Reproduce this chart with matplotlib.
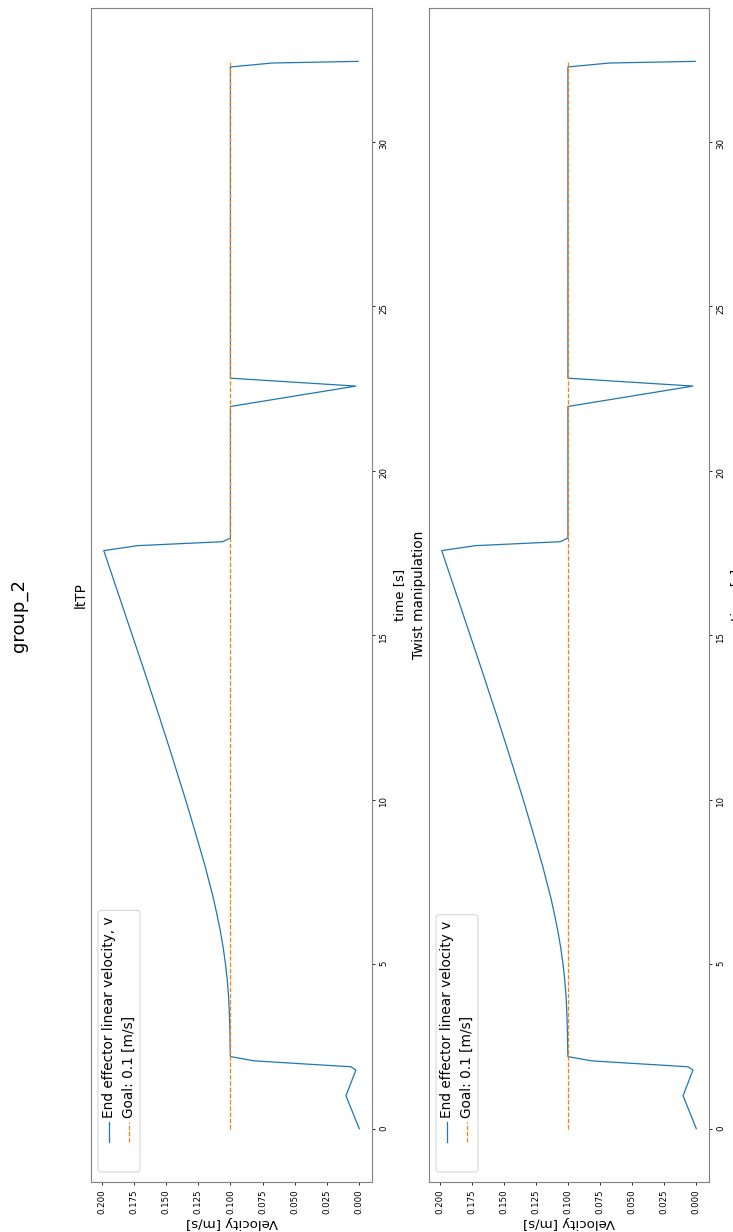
import numpy as np
import matplotlib
matplotlib.use("Agg")
import matplotlib.pyplot as plt
from matplotlib.patches import FancyBboxPatch
from matplotlib.lines import Line2D
from matplotlib.ticker import FormatStrFormatter
from matplotlib.transforms import Affine2D

# end effector speed over time (same run shown in both panels)
time_s = [0.0, 1.0, 1.78, 1.88, 2.06, 2.19, 2.5, 3.0, 3.5, 4.0, 4.5, 5.0,
          5.5, 6.0, 6.5, 7.0, 7.5, 8.0, 8.5, 9.0, 9.5, 10.0, 10.5, 11.0,
          11.5, 12.0, 12.5, 13.0, 13.5, 14.0, 14.5, 15.0, 15.5, 16.0, 16.5,
          17.0, 17.57, 17.72, 17.84, 17.95, 21.95, 22.57, 22.81, 32.27,
          32.39, 32.44]
velocity = [0.0, 0.0103, 0.0026, 0.0064, 0.0815, 0.1, 0.1002, 0.1004, 0.1008,
            0.1014, 0.1024, 0.1038, 0.1056, 0.1078, 0.1104, 0.1132, 0.1165,
            0.1198, 0.1235, 0.1272, 0.131, 0.1348, 0.1388, 0.1428, 0.1468,
            0.1509, 0.155, 0.1592, 0.1634, 0.1676, 0.1719, 0.1762, 0.1805,
            0.1848, 0.1891, 0.1934, 0.1983, 0.172, 0.106, 0.1, 0.1, 0.0026,
            0.1, 0.1, 0.0675, 0.0008]

goal_time = [0.0, 32.44]
goal_velocity = [0.1, 0.1]

panel_titles = ["ltTP", "Twist manipulation"]
velocity_labels = ["End effector linear velocity, v", "End effector linear velocity v"]
goal_label = "Goal: 0.1 [m/s]"

velocity_ticks = np.arange(0, 0.2001, 0.025)
time_ticks = [0, 5, 10, 15, 20, 25, 30]

W, H = 733, 1232
fig = plt.figure(figsize=(W / 100, H / 100), dpi=100)

# axes boxes in pixels: left, right, top, bottom
boxes = [(91, 372, 8, 1182), (429, 709, 8, 1182)]

for (x0, x1, y0, y1), title, vlabel in zip(boxes, panel_titles, velocity_labels):
    ax = fig.add_axes([x0 / W, 1 - y1 / H, (x1 - x0) / W, (y1 - y0) / H])
    ax.plot(velocity, time_s, color="C0", lw=0.9)
    ax.plot(goal_velocity, goal_time, color="C1", ls="--", lw=0.9,
            dashes=(3.5, 1.5))
    ax.invert_xaxis()

    ax.set_xticks(velocity_ticks)
    ax.xaxis.set_major_formatter(FormatStrFormatter("%.3f"))
    ax.set_yticks(time_ticks)
    ax.yaxis.tick_right()
    ax.tick_params(labelsize=6.2, labelrotation=90, length=2.5, width=0.6,
                   pad=2.5)
    for sp in ax.spines.values():
        sp.set_color("0.5")
        sp.set_linewidth(0.8)

    ax.set_xlabel("Velocity [m/s]", rotation=180, fontsize=9.6, labelpad=2)
    ax.yaxis.set_label_position("right")
    ax.set_ylabel("time [s]", rotation=90, fontsize=9.6, labelpad=4)

    # pixel offsets measured from the axes' bottom-left corner
    px = Affine2D().translate(x0, H - y1)
    ax.text(-6, (y1 - y0) / 2, title, transform=px, rotation=90,
            rotation_mode="anchor", ha="center", va="baseline", fontsize=9.8)

    # legend drawn by hand so it reads along the time axis
    rows = [(17.7, "C0", "-", vlabel), (37.7, "C1", "--", goal_label)]
    texts = []
    for dx, color, ls, label in rows:
        ln = Line2D([dx, dx], [40, 60], color=color, ls=ls, lw=0.9,
                    transform=px, clip_on=False)
        if ls == "--":
            ln.set_dashes((3.5, 1.5))
        ax.add_line(ln)
        texts.append(ax.text(dx, 64, label, transform=px, rotation=90,
                             ha="center", va="bottom", fontsize=9.8))
    renderer = fig.canvas.get_renderer()
    top = max(t.get_window_extent(renderer).y1 for t in texts) - (H - y1)
    frame = FancyBboxPatch((7, 10), 42, top + 6 - 10, transform=px,
                           boxstyle="round,pad=0,rounding_size=3",
                           facecolor="white", edgecolor="0.8", lw=0.8,
                           alpha=0.8, zorder=1.5)
    ax.add_patch(frame)

fig.text(24 / W, 0.5, "group_2", rotation=90, rotation_mode="anchor",
         ha="center", va="baseline", fontsize=13)

fig.savefig("out.png", dpi=100)
